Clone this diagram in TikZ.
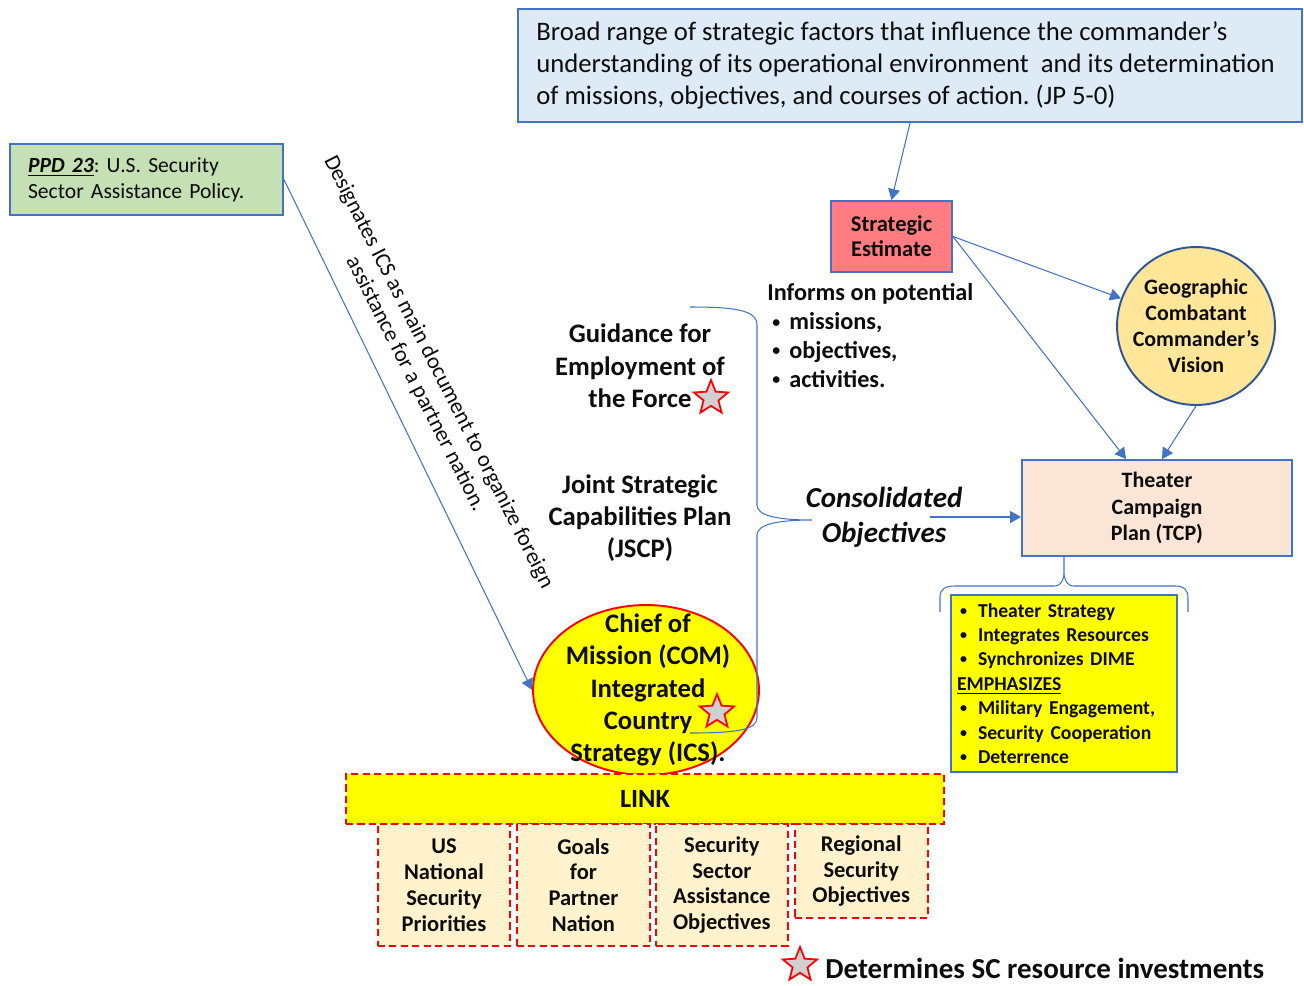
\documentclass[tikz,border=0pt]{standalone}
\usepackage{fontspec}
\setmainfont{Carlito}
\usetikzlibrary{arrows.meta,positioning,shapes.geometric,calc}

\definecolor{lineblue}{HTML}{4472C4}
\definecolor{circblue}{HTML}{2F5597}
\definecolor{envfill}{HTML}{DEEBF7}
\definecolor{ppdfill}{HTML}{C5E0B4}
\definecolor{sefill}{HTML}{FF7C80}
\definecolor{gccfill}{HTML}{FFE699}
\definecolor{tcpfill}{HTML}{FBE5D6}
\definecolor{linkfill}{HTML}{FFFF00}
\definecolor{prifill}{HTML}{FFF2CC}
\definecolor{stargray}{HTML}{D0D0D0}
\definecolor{txt}{HTML}{0D0D0D}

\frenchspacing
\newcommand{\fsz}[2]{\fontsize{#1pt}{#2pt}\selectfont}
\newcommand{\bul}{\makebox[0.42cm][l]{\hspace{0.06cm}\raisebox{0.1em}{\fsz{8}{8}\textbullet}}}
\newcommand{\ibul}{\makebox[0.44cm][l]{\hspace{0.1cm}\raisebox{0.1em}{\fsz{9}{9}\textbullet}}}

\begin{document}
\begin{tikzpicture}[
        x=0.02cm, y=-0.02cm,
        >={Triangle[length=0.22cm,width=0.24cm]},
        box/.style={draw=lineblue, line width=1.1pt, inner sep=0pt, align=center, text=txt},
        dashbox/.style={draw=red, line width=1.1pt, dash pattern=on 4pt off 2.5pt, inner sep=0pt, align=center, text=txt},
        conn/.style={->, draw=lineblue, line width=0.6pt},
        curly/.style={draw=lineblue, line width=0.6pt},
        label/.style={inner sep=0pt, align=center, text=txt},
        redstar/.style={star, star points=5, star point ratio=2.3, draw=red, fill=stargray, line width=1pt, minimum size=0.72cm, inner sep=0pt}
        ]
        \useasboundingbox (0,0) rectangle (1304,985);

        % Boxes
        \node (env) [box, fill=envfill, minimum width=15.68cm, minimum height=2.26cm] at (910,65.5) {};
        \node (envtxt) [label, anchor=west, align=left, font=\fsz{15.2}{18.1}] at (536,65.5)
              {Broad range of strategic factors that influence the commander’s\\
               understanding of its operational environment\ \ and its determination\\
               of missions, objectives, and courses of action. (JP 5-0)};
        \node (ppd) [box, fill=ppdfill, minimum width=5.46cm, minimum height=1.42cm, text width=4.74cm, align=left,
                     font=\fsz{12.3}{14.7}] at (146.5,179.5)
              {\textbf{\textit{\underline{PPD 23}}}: U.S. Security\\Sector Assistance Policy.};
        \node (se) [box, fill=sefill, minimum width=2.42cm, minimum height=1.42cm, font=\bfseries\fsz{12.8}{14.2}] at (891.5,236.5)
              {Strategic\\Estimate};
        \node (gcc) [box, draw=circblue, circle, fill=gccfill, minimum size=3.16cm, font=\bfseries\fsz{12.5}{14.7}] at (1196,326)
              {Geographic\\Combatant\\Commander’s\\Vision};
        \node (tcp) [box, fill=tcpfill, minimum width=5.4cm, minimum height=1.92cm, font=\bfseries\fsz{12.5}{14.9}] at (1157,508)
              {Theater\\Campaign\\Plan (TCP)};
        \node (emph) [box, fill=linkfill, minimum width=4.52cm, minimum height=3.54cm, text width=4.28cm, align=left,
                      font=\bfseries\fsz{11.2}{13.9}] at (1064,683.5)
              {\bul Theater Strategy\\\bul Integrates Resources\\\bul Synchronizes DIME\\\underline{EMPHASIZES}\\
               \bul Military Engagement,\\\bul Security Cooperation\\\bul Deterrence};

        % Plain text
        \node (gef) [label, font=\bfseries\fsz{15.2}{18.4}] at (640,366) {Guidance for\\Employment of\\the Force};
        \node (jscp) [label, font=\bfseries\fsz{15.2}{18.2}] at (640,518) {Joint Strategic\\Capabilities Plan\\(JSCP)};
        \node (inf) [label, anchor=west, align=left, font=\bfseries\fsz{13.8}{16.4}] at (767,335.5)
              {Informs on potential\\\ibul missions,\\\ibul objectives,\\\ibul activities.};
        \node (cons) [label, font=\bfseries\itshape\fsz{16.5}{19.8}] at (884,517) {Consolidated\\Objectives};
        \node (desig) [label, rotate=-63, font=\fsz{12.8}{14.7}] at (427,378)
              {Designates ICS as main document to organize foreign\\assistance for a partner nation.};

        % ICS and link
        \node (com) [ellipse, draw=red, fill=linkfill, line width=1.1pt, minimum width=4.52cm, minimum height=3.4cm] at (646,690) {};
        \node (comtxt) [label, font=\bfseries\fsz{15.2}{18.3}] at (648,690)
              {Chief of\\Mission (COM)\\Integrated\\Country\\Strategy (ICS).};
        \node (link) [dashbox, fill=linkfill, minimum width=11.96cm, minimum height=1.0cm, font=\bfseries\fsz{15}{18}] at (645,799) {LINK};

        \node (usp) [dashbox, fill=prifill, minimum width=2.64cm, minimum height=2.44cm, font=\bfseries\fsz{12.8}{14.7}] at (444,885)
              {US\\National\\Security\\Priorities};
        \node (pn) [dashbox, fill=prifill, minimum width=2.66cm, minimum height=2.44cm, font=\bfseries\fsz{12.8}{14.7}, right=0.1cm of usp]
              {Goals\\for\\Partner\\Nation};
        \node (ssa) [dashbox, fill=prifill, minimum width=2.64cm, minimum height=2.44cm, font=\bfseries\fsz{12.8}{14.7}, right=0.08cm of pn]
              {Security\\Sector\\Assistance\\Objectives};
        \node (rso) [dashbox, fill=prifill, minimum width=2.66cm, minimum height=1.88cm, font=\bfseries\fsz{12.8}{14.7},
                     right=0.1cm of ssa.north east, anchor=north west]
              {Regional\\Security\\Objectives};

        % Stars
        \node (star1) [redstar] at (711,398) {};
        \node (star2) [redstar] at (717,712) {};
        \node (star3) [redstar] at (800,965) {};
        \node (det) [label, anchor=west, font=\bfseries\fsz{16.5}{18}] at (825,968) {Determines SC resource investments};

        % Connectors
        \coordinate (consr) at ($(cons.center)+(46,0)$);
        \draw[conn] (env.south) -- (se.north);
        \draw[conn] (se.east) -- (gcc);
        \draw[conn] (se.east) -- ($(tcp.north west)+(105,0)$);
        \draw[conn] (gcc.south) -- ($(tcp.north)+(5,0)$);
        \draw[conn] (consr) -- (consr -| tcp.west);
        \draw[conn] (ppd.east) -- (com.west);

        % Braces
        \draw[curly] (690,307) .. controls (735,307) and (757,310) .. (757,325) -- (757,505)
              .. controls (757,515) and (775,520) .. (812,520)
              .. controls (775,520) and (757,525) .. (757,535) -- (757,718)
              .. controls (757,730) and (735,733) .. (690,733);
        \draw[curly] (940,612) -- (940,597) .. controls (940,589) and (945,586) .. (955,586) -- (1054,586)
              .. controls (1061,586) and (1064,580) .. (1064,572) -- (tcp.south -| 1064,0)
              (1064,572) .. controls (1064,580) and (1067,586) .. (1074,586) -- (1176,586)
              .. controls (1184,586) and (1188,590) .. (1188,598) -- (1188,612);
\end{tikzpicture}
\end{document}
